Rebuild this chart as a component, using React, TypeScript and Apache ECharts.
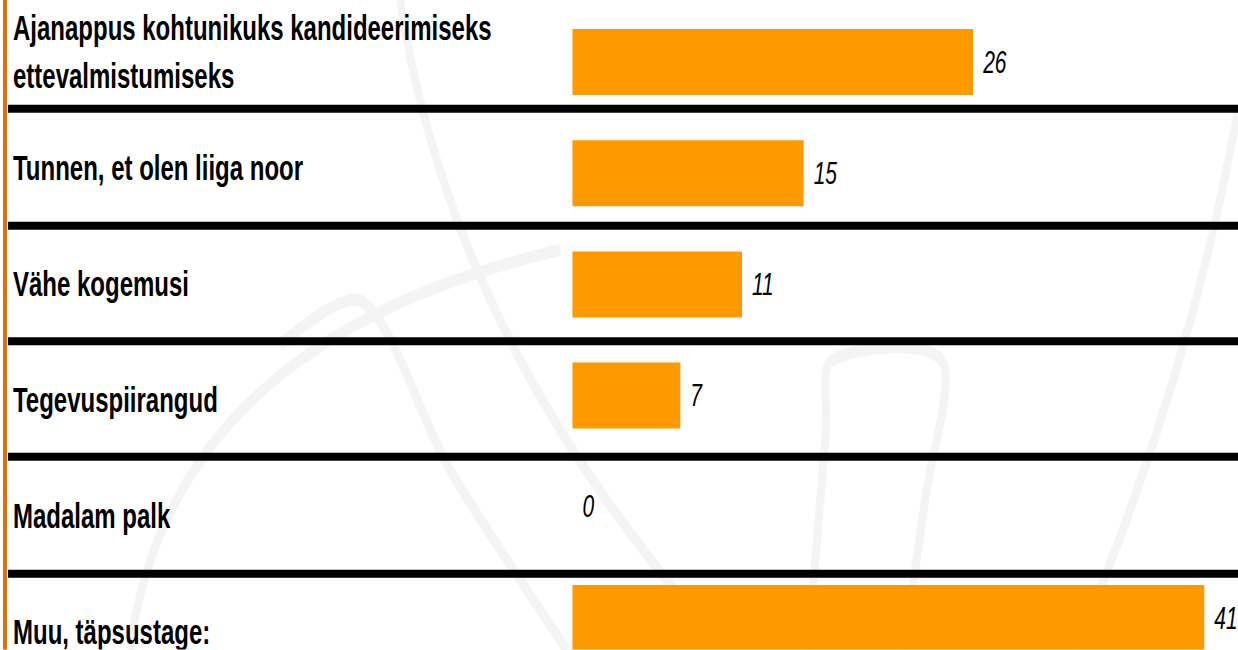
import React, { useEffect, useRef } from "react";
import * as echarts from "echarts";

const categories = [
  "Ajanappus kohtunikuks kandideerimiseks\nettevalmistumiseks",
  "Tunnen, et olen liiga noor",
  "Vähe kogemusi",
  "Tegevuspiirangud",
  "Madalam palk",
  "Muu, täpsustage:",
];
const values = [26, 15, 11, 7, 0, 41];
const axisMax = 43;

const W = 1238;
const H = 650;
const SY = 1.5; // the picture is stretched vertically
const CH = H / SY;
const FONT = "'Liberation Sans', Arial, Helvetica, sans-serif";

// faint watermark curves (real pixel coords), quadratic beziers
const watermark: number[][] = [
  [1238, 110, 1190, 380, 1075, 650],
  [400, 0, 450, 330, 700, 620],
  [130, 650, 170, 340, 560, 250],
];
const watermarkPolys: number[][][] = [
  [[808, 650], [826, 430], [831, 361], [942, 361], [925, 500], [903, 650]],
  [[280, 345], [363, 302], [450, 470], [567, 650]],
];

export default function App() {
  const ref = useRef<HTMLDivElement | null>(null);
  useEffect(() => {
    if (!ref.current) return;
    const chart = echarts.init(ref.current, null, { renderer: "svg", width: W, height: CH });
    const wmColor = "#f4f4f4";
    const graphics: any[] = [
      {
        type: "rect",
        shape: { x: 3, y: 0, width: 4, height: CH },
        style: { fill: "#E46C0A" },
        z: 10,
      },
      ...watermark.map((c) => ({
        type: "bezierCurve",
        shape: { x1: c[0], y1: c[1] / SY, cpx1: c[2], cpy1: c[3] / SY, x2: c[4], y2: c[5] / SY },
        style: { stroke: wmColor, lineWidth: 8, fill: null },
        z: -10,
        silent: true,
      })),
      ...watermarkPolys.map((p) => ({
        type: "polyline",
        shape: { points: p.map((q) => [q[0], q[1] / SY]), smooth: 0.3 },
        style: { stroke: wmColor, lineWidth: 8, fill: null },
        z: -10,
        silent: true,
      })),
    ];
    const sepPitch = 116 / SY;
    const barPitch = 111.2 / SY;
    chart.setOption({
      animation: false,
      backgroundColor: "#ffffff",
      graphic: { elements: graphics },
      grid: [
        {
          left: 8,
          right: 0,
          top: 109 / SY - sepPitch,
          height: sepPitch * categories.length,
          outerBoundsMode: "none",
          containLabel: false,
        },
        {
          left: 572.5,
          width: axisMax * 15.41,
          top: 62 / SY - barPitch / 2,
          height: barPitch * categories.length,
          outerBoundsMode: "none",
          containLabel: false,
        },
      ],
      xAxis: [
        { type: "value", gridIndex: 0, show: false, min: 0, max: axisMax },
        { type: "value", gridIndex: 1, show: false, min: 0, max: axisMax },
      ],
      yAxis: [
        {
          type: "category",
          gridIndex: 0,
          data: categories,
          inverse: true,
          axisLine: { show: false },
          axisTick: { show: false },
          axisLabel: {
            inside: true,
            margin: 5,
            align: "left",
            fontSize: 24,
            fontWeight: "bold",
            color: "#000",
            fontFamily: FONT,
            lineHeight: 32,
          },
          splitLine: { show: true, lineStyle: { color: "#000", width: 8 / SY } },
        },
        {
          type: "category",
          gridIndex: 1,
          data: categories,
          inverse: true,
          show: false,
        },
      ],
      series: [
        {
          type: "bar",
          xAxisIndex: 1,
          yAxisIndex: 1,
          data: values,
          barWidth: 66 / SY,
          itemStyle: { color: "#FF9900" },
          z: 3,
          label: {
            show: true,
            position: "right",
            distance: 10,
            fontSize: 21,
            fontStyle: "italic",
            color: "#000",
            fontFamily: FONT,
          },
        },
      ],
    });
    return () => chart.dispose();
  }, []);

  return (
    <div
      style={{
        position: "fixed",
        left: 0,
        top: 0,
        width: W,
        height: H,
        overflow: "hidden",
        background: "#fff",
      }}
    >
      <div
        ref={ref}
        style={{
          width: W,
          height: CH,
          transform: `scaleY(${SY})`,
          transformOrigin: "0 0",
        }}
      />
    </div>
  );
}
